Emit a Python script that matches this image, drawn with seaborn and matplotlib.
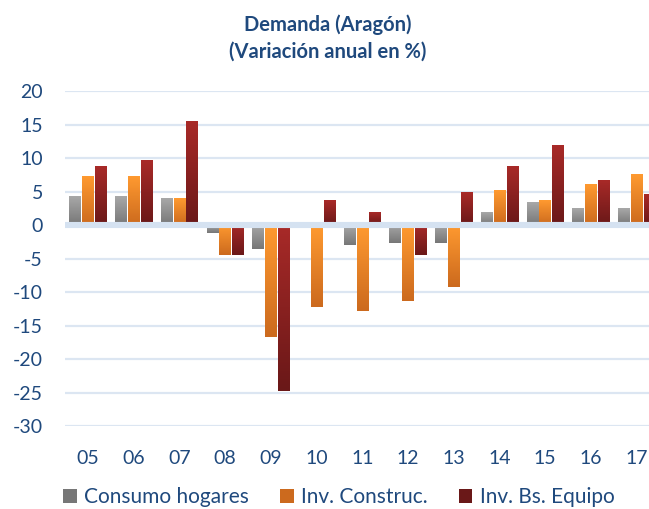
import numpy as np
import pandas as pd
import matplotlib
matplotlib.use('Agg')
import matplotlib.pyplot as plt
from matplotlib.colors import LinearSegmentedColormap
from matplotlib.patches import Patch
import seaborn as sns

# datos (variación anual en %)
years = ['05', '06', '07', '08', '09', '10', '11', '12', '13', '14', '15', '16', '17']
consumo = [4.3, 4.3, 4.0, -1.2, -3.6, 0.0, -2.9, -2.7, -2.7, 1.9, 3.4, 2.5, 2.5]
construc = [7.3, 7.3, 4.0, -4.5, -16.7, -12.2, -12.8, -11.3, -9.3, 5.2, 3.7, 6.1, 7.6]
equipo = [8.8, 9.7, 15.4, -4.5, -24.8, 3.7, 1.9, -4.5, 4.9, 8.8, 11.8, 6.7, 4.6]
series = ['Consumo hogares', 'Inv. Construc.', 'Inv. Bs. Equipo']

df = pd.DataFrame({
    'year': years * 3,
    'serie': [series[0]] * 13 + [series[1]] * 13 + [series[2]] * 13,
    'valor': consumo + construc + equipo,
})

# gradientes tipo Excel: claro arriba, oscuro abajo
grads = {
    series[0]: ('#a8a8a8', '#777777'),
    series[1]: ('#ff9a30', '#cc6a1e'),
    series[2]: ('#a82a28', '#6a1818'),
}
mid = {k: v[0] for k, v in grads.items()}

text_col = '#1f497d'

sns.set_style('white')
plt.rcParams['font.family'] = ['Lato', 'DejaVu Sans']
plt.rcParams['axes.unicode_minus'] = False

fig = plt.figure(figsize=(6.49, 5.09), dpi=100)
ax = fig.add_axes([0.1002, 0.163, 0.8998, 0.658])

sns.barplot(data=df, x='year', y='valor', hue='serie', palette=mid,
            width=0.84, gap=0.1, ax=ax, legend=False, zorder=2)

for cont, name in zip(ax.containers, series):
    cmap = LinearSegmentedColormap.from_list(name, grads[name])
    for p in cont.patches:
        x0, w = p.get_x(), p.get_width()
        y0, h = p.get_y(), p.get_height()
        if h == 0:
            continue
        p.set_alpha(0)
        lo, hi = min(y0, y0 + h), max(y0, y0 + h)
        ax.imshow(np.linspace(0, 1, 64).reshape(-1, 1), cmap=cmap,
                  extent=[x0, x0 + w, lo, hi], origin='upper',
                  aspect='auto', zorder=2)

ax.set_xlim(-0.5, 12.27)
ax.set_ylim(-30, 20)
ax.set_yticks(range(-30, 21, 5))
ax.yaxis.grid(True, color='#dce6f2', linewidth=1.6, zorder=0)
ax.set_axisbelow(True)
ax.axhline(0, color='#d5e2f1', linewidth=4.4, zorder=3)
sns.despine(ax=ax, left=True, bottom=True)

ax.set_xlabel('')
ax.set_ylabel('')
ax.tick_params(axis='both', length=0, labelsize=14, labelcolor=text_col)
ax.tick_params(axis='y', pad=16)
ax.tick_params(axis='x', pad=17)

fig.suptitle('Demanda (Aragón)\n(Variación anual en %)', x=0.505, y=0.972,
             fontsize=14.5, fontweight='bold', color=text_col, linespacing=1.4)

handles = [Patch(facecolor=grads[s][1], edgecolor='none') for s in series]
fig.legend(handles, series, loc='lower center', ncol=3, frameon=False,
           bbox_to_anchor=(0.522, -0.033), fontsize=15, labelcolor=text_col,
           handlelength=0.65, handleheight=0.65, handletextpad=0.35, columnspacing=1.5)

fig.savefig('out.png', dpi=100)
